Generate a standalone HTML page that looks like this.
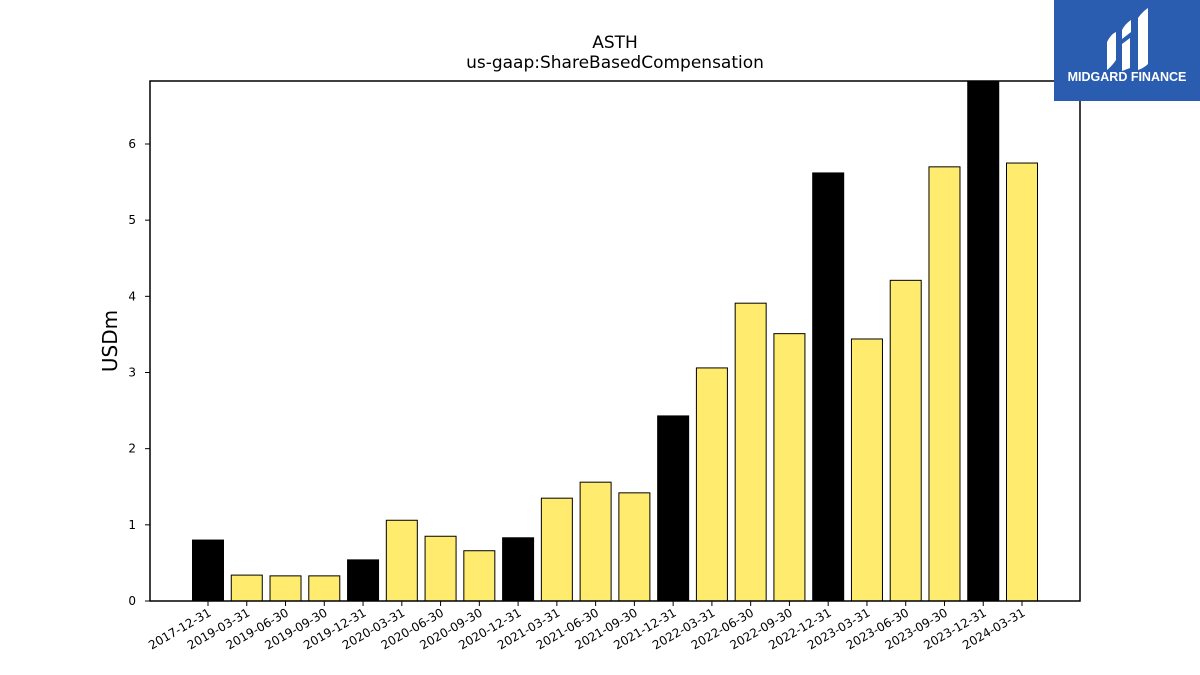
<!DOCTYPE html>
<html><head><meta charset="utf-8"><style>
html,body{margin:0;padding:0;background:#fff;width:1200px;height:675px;overflow:hidden;font-family:"Liberation Sans","DejaVu Sans",sans-serif;}
</style></head><body>
<svg id="chart" width="1200" height="675" xmlns="http://www.w3.org/2000/svg" font-family="DejaVu Sans, Liberation Sans, sans-serif">
<text x="615" y="48" text-anchor="middle" font-size="17">ASTH</text>
<text x="615" y="68" text-anchor="middle" font-size="17">us-gaap:ShareBasedCompensation</text>
<text transform="translate(117,341) rotate(-90)" text-anchor="middle" font-size="20">USDm</text>
<g id="bars"></g>
<g id="yticks"></g>
<g id="xticks"></g>
<rect x="150" y="81" width="930" height="520" fill="none" stroke="#000" stroke-width="1.5"/>
<g>
<rect x="1054" y="0" width="146" height="101" fill="#2a5db0"/>
<path d="M1107 42 q4-8 9-10 l0 28 q-4 6-9 10 z M1122 44 l8-6 0 30 -8 3 z M1122 30 q3-6 9-10 l0 12 -9 7 z M1138 18 q4-6 10-10 l0 56 q-4 4-10 6 z" fill="#fff"/>
<text x="1127" y="81" text-anchor="middle" font-size="12.5" font-weight="bold" fill="#fff" font-family="Liberation Sans, sans-serif">MIDGARD FINANCE</text>
</g>
</svg>
<script>
const categories = ["2017-12-31","2019-03-31","2019-06-30","2019-09-30","2019-12-31","2020-03-31","2020-06-30","2020-09-30","2020-12-31","2021-03-31","2021-06-30","2021-09-30","2021-12-31","2022-03-31","2022-06-30","2022-09-30","2022-12-31","2023-03-31","2023-06-30","2023-09-30","2023-12-31","2024-03-31"];
const values = [0.80,0.34,0.33,0.33,0.54,1.06,0.85,0.66,0.83,1.35,1.56,1.42,2.43,3.06,3.91,3.51,5.62,3.44,4.21,5.70,6.90,5.75];
const isAnnual = [true,false,false,false,true,false,false,false,true,false,false,false,true,false,false,false,true,false,false,false,true,false];
const yTicks = [0,1,2,3,4,5,6];
const NS = "http://www.w3.org/2000/svg";
const plotL = 150, plotR = 1080, plotT = 81, plotB = 601, yMax = 6.827;
function yScale(v){ return plotB - (Math.min(v, yMax) / yMax) * (plotB - plotT); }
const firstC = 208, lastC = 1022;
function xScale(i){ return firstC + i * (lastC - firstC) / (categories.length - 1); }
const bw = 31;
const bars = document.getElementById("bars"), yt = document.getElementById("yticks"), xt = document.getElementById("xticks");
categories.forEach((c, i) => {
  const r = document.createElementNS(NS, "rect");
  
  
  const y = yScale(values[i]);
  r.setAttribute("x", xScale(i) - bw / 2);
  r.setAttribute("y", y);
  r.setAttribute("width", bw);
  r.setAttribute("height", plotB - y);
  r.setAttribute("fill", isAnnual[i] ? "#000" : "#ffec6e");
  r.setAttribute("stroke", "#000");
  r.setAttribute("stroke-width", "1");
  bars.appendChild(r);
  const t = document.createElementNS(NS, "line");
  
  
  t.setAttribute("x1", xScale(i)); t.setAttribute("x2", xScale(i));
  t.setAttribute("y1", plotB); t.setAttribute("y2", plotB + 5);
  t.setAttribute("stroke", "#000");
  xt.appendChild(t);
  const l = document.createElementNS(NS, "text");
  
  
  l.setAttribute("transform", "translate(" + (xScale(i) + 4) + "," + (plotB + 14) + ") rotate(-30)");
  l.setAttribute("text-anchor", "end");
  l.setAttribute("font-size", "12");
  l.textContent = c;
  xt.appendChild(l);
});
yTicks.forEach(v => {
  const y = yScale(v);
  const t = document.createElementNS(NS, "line");
  
  
  t.setAttribute("x1", plotL - 5); t.setAttribute("x2", plotL);
  t.setAttribute("y1", y); t.setAttribute("y2", y);
  t.setAttribute("stroke", "#000");
  yt.appendChild(t);
  const l = document.createElementNS(NS, "text");
  
  
  l.setAttribute("x", plotL - 14); l.setAttribute("y", y + 4);
  l.setAttribute("text-anchor", "end");
  l.setAttribute("font-size", "12");
  l.textContent = v;
  yt.appendChild(l);
});
</script>
</body></html>
